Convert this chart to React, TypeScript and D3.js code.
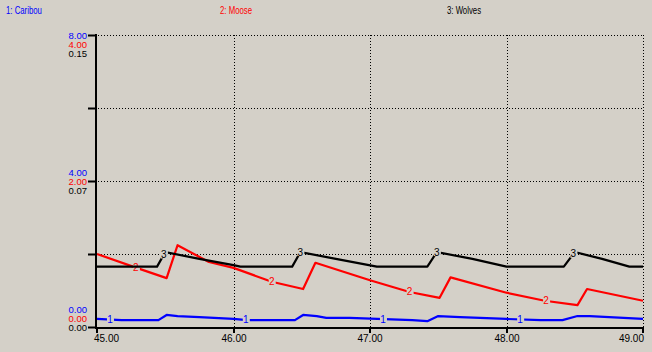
import { useEffect, useRef } from "react";
import * as d3 from "d3";

// ---- data ------------------------------------------------------------------
const caribouT = [45.0, 45.18, 45.45, 45.51, 45.59, 45.75, 46.0, 46.1, 46.45, 46.51, 46.61, 46.68, 46.85, 47.31, 47.42, 47.5, 47.66, 48.0, 48.25, 48.41, 48.52, 48.61, 49.0];
const caribouV = [0.22, 0.19, 0.19, 0.33, 0.3, 0.27, 0.22, 0.19, 0.19, 0.33, 0.3, 0.25, 0.25, 0.19, 0.16, 0.3, 0.27, 0.22, 0.19, 0.19, 0.3, 0.3, 0.22];

const mooseT = [45.0, 45.29, 45.51, 45.59, 45.82, 46.0, 46.28, 46.51, 46.6, 47.0, 47.29, 47.51, 47.59, 48.0, 48.28, 48.52, 48.59, 49.0];
const mooseV = [1.0, 0.81, 0.67, 1.12, 0.89, 0.81, 0.62, 0.52, 0.88, 0.64, 0.48, 0.4, 0.68, 0.47, 0.36, 0.3, 0.52, 0.36];

const wolvesT = [45.0, 45.44, 45.5, 45.75, 46.0, 46.05, 46.43, 46.49, 46.75, 47.05, 47.42, 47.49, 47.75, 48.0, 48.42, 48.5, 48.7, 48.9, 49.0];
const wolvesV = [0.031, 0.031, 0.0385, 0.035, 0.0318, 0.031, 0.031, 0.0385, 0.035, 0.031, 0.031, 0.0385, 0.035, 0.031, 0.031, 0.0385, 0.035, 0.031, 0.031];

const xTicks = [45, 46, 47, 48, 49];
const caribouTicks = [0, 4, 8];
const mooseTicks = [0, 2, 4];
const wolvesTicks = [0, 0.075, 0.15];

const seriesNames = ["1: Caribou", "2: Moose", "3: Wolves"];
const seriesColors = ["#0000ff", "#ff0000", "#000000"];
const seriesMax = [8, 4, 0.15];
const markerTimes = [
  [45.095, 46.09, 47.095, 48.1],
  [45.285, 46.28, 47.29, 48.29],
  [45.49, 46.49, 47.49, 48.49],
];

const BG = "#d4d0c8";
const W = 652;
const H = 352;

export default function App() {
  const svgRef = useRef<SVGSVGElement | null>(null);

  useEffect(() => {
    const svg = d3.select(svgRef.current);
    svg.selectAll("*").remove();

    const left = 96;
    const right = 643;
    const top = 35;
    const bottom = 327;
    const font = "'Liberation Sans', Arial, sans-serif";

    svg.append("rect").attr("width", W).attr("height", H).attr("fill", BG);

    const x = d3.scaleLinear().domain([45, 49]).range([left + 1, right]);
    const ys = seriesMax.map((m) => d3.scaleLinear().domain([0, m]).range([bottom, top]));

    // legend titles (narrow bitmap-like font, squeezed horizontally)
    const titleX = [6, 220, 447];
    seriesNames.forEach((n, i) => {
      svg.append("text")
        .attr("transform", `translate(${titleX[i]},14) scale(0.78,1)`)
        .attr("font-family", font)
        .attr("font-size", 10)
        .attr("fill", seriesColors[i])
        .text(n);
    });

    // grid (dotted)
    const gridY = [8, 6, 4, 2].map((v) => ys[0](v));
    gridY.forEach((gy) => {
      svg.append("line")
        .attr("x1", left + 2).attr("x2", right)
        .attr("y1", gy + 0.5).attr("y2", gy + 0.5)
        .attr("stroke", "#000").attr("stroke-dasharray", "1,2");
    });
    xTicks.slice(1).forEach((t) => {
      svg.append("line")
        .attr("x1", Math.round(x(t)) + 0.5).attr("x2", Math.round(x(t)) + 0.5)
        .attr("y1", top).attr("y2", bottom)
        .attr("stroke", "#000").attr("stroke-dasharray", "1,2");
    });

    // series
    const sets = [
      { t: caribouT, v: caribouV },
      { t: mooseT, v: mooseV },
      { t: wolvesT, v: wolvesV },
    ];
    sets.forEach((s, i) => {
      const pts = s.t.map((t, k) => [t, s.v[k]] as [number, number]);
      const line = d3.line<[number, number]>()
        .x((d) => x(d[0]))
        .y((d) => ys[i](d[1]));
      svg.append("path")
        .datum(pts)
        .attr("fill", "none")
        .attr("stroke", seriesColors[i])
        .attr("stroke-width", 2.2)
        .attr("stroke-linejoin", "round")
        .attr("d", line);

      const interp = d3.scaleLinear().domain(s.t).range(s.v);
      markerTimes[i].forEach((mt) => {
        const px = x(mt);
        const py = ys[i](interp(mt));
        svg.append("rect")
          .attr("x", px - 3).attr("y", py - 5)
          .attr("width", 7).attr("height", 9)
          .attr("fill", BG);
        svg.append("text")
          .attr("x", px).attr("y", py + 3.5)
          .attr("text-anchor", "middle")
          .attr("font-family", font)
          .attr("font-size", 10)
          .attr("fill", seriesColors[i])
          .text(String(i + 1));
      });
    });

    // axes
    svg.append("line")
      .attr("x1", left).attr("x2", left)
      .attr("y1", top - 1).attr("y2", bottom + 1)
      .attr("stroke", "#000").attr("stroke-width", 2);
    svg.append("line")
      .attr("x1", left - 1).attr("x2", right + 1)
      .attr("y1", bottom + 1).attr("y2", bottom + 1)
      .attr("stroke", "#000").attr("stroke-width", 2);

    [8, 6, 4, 2, 0].forEach((v) => {
      const ty = ys[0](v);
      svg.append("line")
        .attr("x1", left - 8).attr("x2", left)
        .attr("y1", ty + 0.5).attr("y2", ty + 0.5)
        .attr("stroke", "#000").attr("stroke-width", 2);
    });
    xTicks.forEach((t) => {
      const tx = Math.round(x(t));
      svg.append("line")
        .attr("x1", tx).attr("x2", tx)
        .attr("y1", bottom).attr("y2", bottom + 6)
        .attr("stroke", "#000").attr("stroke-width", 2);
      svg.append("text")
        .attr("x", t === 45 ? tx - 3 : t === 49 ? tx + 1 : tx)
        .attr("y", 342)
        .attr("text-anchor", t === 45 ? "start" : t === 49 ? "end" : "middle")
        .attr("font-family", font)
        .attr("font-size", 10)
        .attr("fill", "#000")
        .text(t.toFixed(2));
    });

    // y tick labels, stacked per series
    const tickSets = [caribouTicks, mooseTicks, wolvesTicks];
    caribouTicks.forEach((_, k) => {
      const ty = ys[0](caribouTicks[k]);
      // top -> first row at tick, middle -> second row, bottom -> third row
      const anchorRow = k === 2 ? 0 : k === 1 ? 1 : 2;
      tickSets.forEach((ts, i) => {
        svg.append("text")
          .attr("x", 87)
          .attr("y", ty + (i - anchorRow) * 9 + 3.5)
          .attr("text-anchor", "end")
          .attr("font-family", font)
          .attr("font-size", 9.5)
          .attr("fill", seriesColors[i])
          .text(ts[k].toFixed(2));
      });
    });
  }, []);

  return (
    <svg
      ref={svgRef}
      width={W}
      height={H}
      style={{ position: "absolute", left: 0, top: 0, display: "block" }}
    />
  );
}
